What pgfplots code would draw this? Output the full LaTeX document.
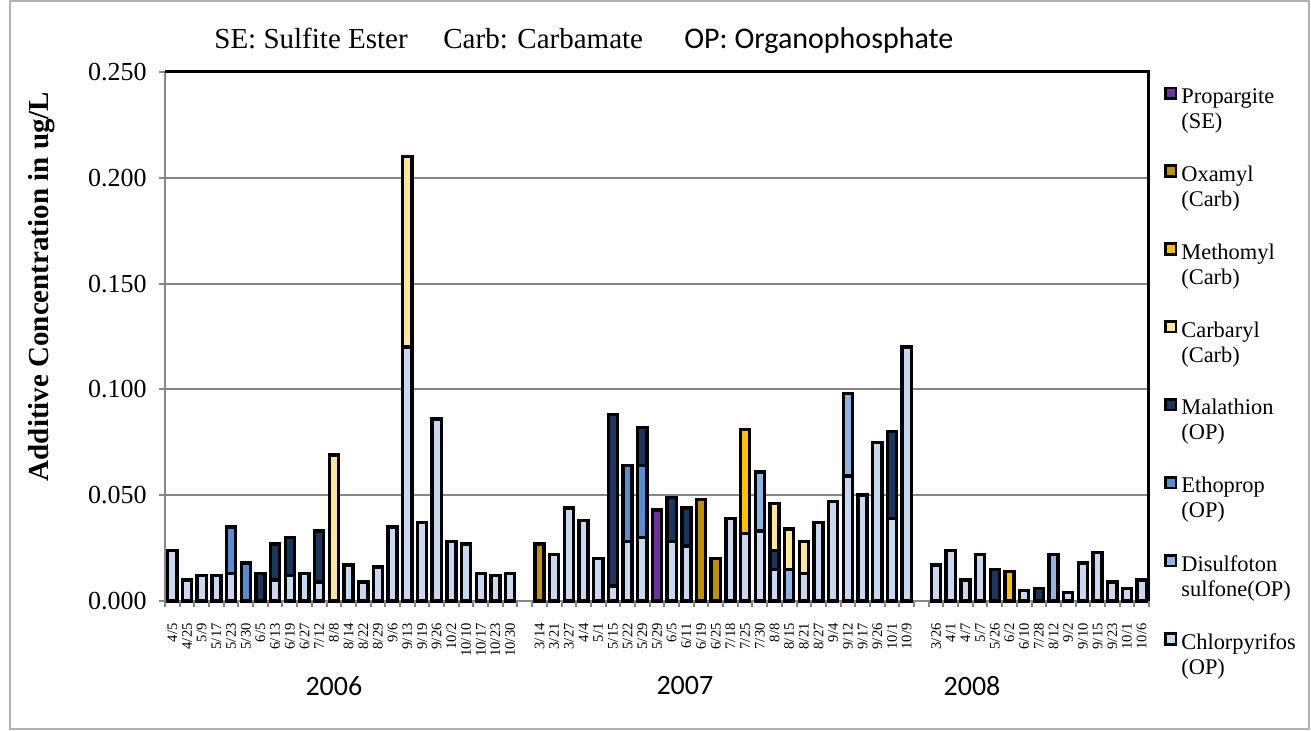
\documentclass[border=0pt]{standalone}
\usepackage{pgfplots}
\pgfplotsset{compat=1.18}
\usepackage{pgfplotstable}
\usepackage{fontspec}
\setmainfont{Liberation Serif}
\newfontfamily\calibri{Carlito}
\definecolor{cChl}{HTML}{C6D9F1}
\definecolor{cDS}{HTML}{8EB4E3}
\definecolor{cEth}{HTML}{558ED5}
\definecolor{cMal}{HTML}{17375E}
\definecolor{cCarb}{HTML}{FFE699}
\definecolor{cMeth}{HTML}{FFC000}
\definecolor{cOxa}{HTML}{BF9000}
\definecolor{cProp}{HTML}{7030A0}
\definecolor{gridgray}{HTML}{868686}

\pgfplotstableread{
x  Chl   DS    Eth   Mal   Carb  Meth  Oxa   Prop
0  0.024 0     0     0     0     0     0     0
1  0.010 0     0     0     0     0     0     0
2  0.012 0     0     0     0     0     0     0
3  0.012 0     0     0     0     0     0     0
4  0.013 0     0.022 0     0     0     0     0
5  0     0     0.018 0     0     0     0     0
6  0     0     0     0.013 0     0     0     0
7  0.010 0     0     0.017 0     0     0     0
8  0.012 0     0     0.018 0     0     0     0
9  0.013 0     0     0     0     0     0     0
10 0.009 0     0     0.024 0     0     0     0
11 0     0     0     0     0.069 0     0     0
12 0.017 0     0     0     0     0     0     0
13 0.009 0     0     0     0     0     0     0
14 0.016 0     0     0     0     0     0     0
15 0.035 0     0     0     0     0     0     0
16 0.120 0     0     0     0.090 0     0     0
17 0.037 0     0     0     0     0     0     0
18 0.086 0     0     0     0     0     0     0
19 0.028 0     0     0     0     0     0     0
20 0.027 0     0     0     0     0     0     0
21 0.013 0     0     0     0     0     0     0
22 0.012 0     0     0     0     0     0     0
23 0.013 0     0     0     0     0     0     0
25 0     0     0     0     0     0     0.027 0
26 0.022 0     0     0     0     0     0     0
27 0.044 0     0     0     0     0     0     0
28 0.038 0     0     0     0     0     0     0
29 0.020 0     0     0     0     0     0     0
30 0.007 0     0     0.081 0     0     0     0
31 0.028 0     0.036 0     0     0     0     0
32 0.030 0     0.034 0.018 0     0     0     0
33 0     0     0     0     0     0     0     0.043
34 0.028 0     0     0.021 0     0     0     0
35 0.026 0     0     0.018 0     0     0     0
36 0     0     0     0     0     0     0.048 0
37 0     0     0     0     0     0     0.020 0
38 0.039 0     0     0     0     0     0     0
39 0.032 0     0     0     0     0.049 0     0
40 0.033 0.028 0     0     0     0     0     0
41 0.015 0     0     0.009 0.022 0     0     0
42 0     0.015 0     0     0.019 0     0     0
43 0.013 0     0     0     0.015 0     0     0
44 0.037 0     0     0     0     0     0     0
45 0.047 0     0     0     0     0     0     0
46 0.059 0.039 0     0     0     0     0     0
47 0.050 0     0     0     0     0     0     0
48 0.075 0     0     0     0     0     0     0
49 0.039 0     0     0.041 0     0     0     0
50 0.120 0     0     0     0     0     0     0
52 0.017 0     0     0     0     0     0     0
53 0.024 0     0     0     0     0     0     0
54 0.010 0     0     0     0     0     0     0
55 0.022 0     0     0     0     0     0     0
56 0     0     0     0.015 0     0     0     0
57 0     0     0     0     0     0.014 0     0
58 0.005 0     0     0     0     0     0     0
59 0     0     0     0.006 0     0     0     0
60 0     0.022 0     0     0     0     0     0
61 0.004 0     0     0     0     0     0     0
62 0.018 0     0     0     0     0     0     0
63 0.023 0     0     0     0     0     0     0
64 0.009 0     0     0     0     0     0     0
65 0.006 0     0     0     0     0     0     0
66 0.010 0     0     0     0     0     0     0
}\data

\begin{document}
\begin{tikzpicture}
\begin{axis}[
  name=ax,
  scale only axis,
  width=492pt, height=264.5pt,
  xmin=-0.5, xmax=66.5,
  ymin=0, ymax=0.25,
  ybar stacked,
  bar width=0.62,
  clip=false,
  separate axis lines,
  axis line style={gridgray, line width=1.1pt},
  ymajorgrids,
  major grid style={gridgray, line width=1pt},
  major tick length=0pt,
  minor tick length=0pt,
  xtick=data,
  xticklabels={4/5,4/25,5/9,5/17,5/23,5/30,6/5,6/13,6/19,6/27,7/12,8/8,8/14,8/22,8/29,9/6,9/13,9/19,9/26,10/2,10/10,10/17,10/23,10/30,
    3/14,3/21,3/27,4/4,5/1,5/15,5/22,5/29,5/29,6/5,6/11,6/19,6/25,7/18,7/25,7/30,8/8,8/15,8/21,8/27,9/4,9/12,9/17,9/26,10/1,10/9,
    3/26,4/1,4/7,5/7,5/26,6/2,6/10,7/28,8/12,9/2,9/10,9/15,9/23,10/1,10/6},
  xticklabel style={rotate=90, anchor=east, inner sep=0pt, font=\fontsize{7.3}{8}\selectfont},
  xticklabel shift=11pt,
  ytick={0,0.05,0.1,0.15,0.2,0.25},
  scaled y ticks=false,
  /pgf/number format/assume math mode=true,
  yticklabel style={/pgf/number format/fixed, /pgf/number format/fixed zerofill, /pgf/number format/precision=3,
     font=\fontsize{13}{14}\selectfont, inner sep=0pt},
  yticklabel shift=9pt,
  reverse legend,
  legend image code/.code={\draw[#1, line width=1.4pt] (0.7pt,5.6pt) rectangle (5.8pt,10.9pt);},
  legend style={at={(1,1)}, anchor=north west, xshift=4.5pt, yshift=-4pt, draw=none, fill=none,
     font=\fontsize{11.2}{12.5}\selectfont, row sep=13.2pt,
     cells={anchor=west, align=left},
     /tikz/every even column/.append style={column sep=0pt}},
]
\addplot[fill=cChl, draw=black, line width=1.7pt] table[x=x, y=Chl]{\data};
\addlegendentry{Chlorpyrifos\\(OP)}
\addplot[fill=cDS, draw=black, line width=1.7pt] table[x=x, y=DS]{\data};
\addlegendentry{Disulfoton\\sulfone(OP)}
\addplot[fill=cEth, draw=black, line width=1.7pt] table[x=x, y=Eth]{\data};
\addlegendentry{Ethoprop\\(OP)}
\addplot[fill=cMal, draw=black, line width=1.7pt] table[x=x, y=Mal]{\data};
\addlegendentry{Malathion\\(OP)}
\addplot[fill=cCarb, draw=black, line width=1.7pt] table[x=x, y=Carb]{\data};
\addlegendentry{Carbaryl\\(Carb)}
\addplot[fill=cMeth, draw=black, line width=1.7pt] table[x=x, y=Meth]{\data};
\addlegendentry{Methomyl\\(Carb)}
\addplot[fill=cOxa, draw=black, line width=1.7pt] table[x=x, y=Oxa]{\data};
\addlegendentry{Oxamyl\\(Carb)}
\addplot[fill=cProp, draw=black, line width=1.7pt] table[x=x, y=Prop]{\data};
\addlegendentry{Propargite\\(SE)}
\pgfplotsinvokeforeach{-0.5,0.5,...,66.5}{
  \draw[gridgray, line width=1pt] (axis cs:#1,0) -- ([yshift=-3.2pt]axis cs:#1,0);
}
\pgfplotsinvokeforeach{0,0.05,0.1,0.15,0.2,0.25}{
  \draw[gridgray, line width=1pt] (axis cs:-0.5,#1) -- ([xshift=-3.2pt]axis cs:-0.5,#1);
}
\draw[black, line width=1.5pt] (rel axis cs:0,1) -- (rel axis cs:1,1) -- (rel axis cs:1,0);
\node[anchor=base west, font=\fontsize{14.5}{16}\selectfont, inner sep=0pt] at (rel axis cs:0.0498,1.0448) {SE: Sulfite Ester};
\node[anchor=base west, font=\fontsize{14.5}{16}\selectfont, inner sep=0pt] at (rel axis cs:0.2825,1.0448) {Carb: Carbamate};
\node[anchor=base west, font=\calibri\fontsize{15}{16}\selectfont, inner sep=0pt] at (rel axis cs:0.5274,1.0448) {OP: Organophosphate};
\node[font=\calibri\fontsize{14}{16}\selectfont] at ([yshift=-42.5pt]axis cs:11.0,0) {2006};
\node[font=\calibri\fontsize{14}{16}\selectfont] at ([yshift=-42.5pt]axis cs:34.9,0) {2007};
\node[font=\calibri\fontsize{14}{16}\selectfont] at ([yshift=-42.5pt]axis cs:54.45,0) {2008};
\node[rotate=90, font=\bfseries\fontsize{14.5}{16}\selectfont] at ([xshift=-61.5pt]rel axis cs:0,0.5945) {Additive Concentration in ug/L};
\end{axis}
\draw[gray!60, line width=0.6pt] ([shift={(-77.5pt,-64pt)}]ax.south west) rectangle ([shift={(572pt,300pt)}]ax.south west);
\pgfresetboundingbox
\useasboundingbox ([shift={(-82.5pt,-65pt)}]ax.south west) rectangle ([shift={(573pt,300.5pt)}]ax.south west);
\end{tikzpicture}
\end{document}
